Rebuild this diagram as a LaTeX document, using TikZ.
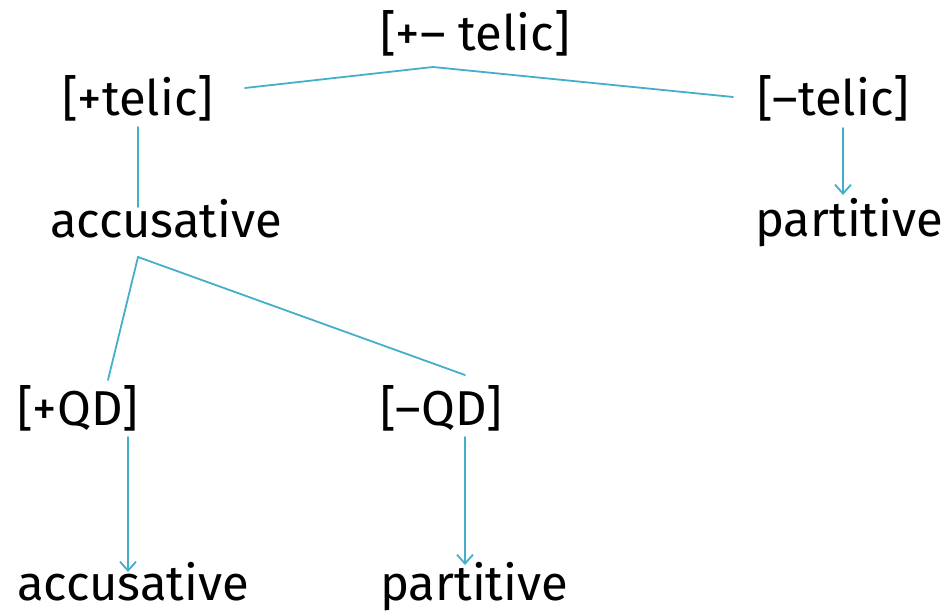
\documentclass[tikz,border=0pt]{standalone}
\usepackage{fontspec}
\setmainfont{Fira Sans}
\usepackage{tikz}
\usetikzlibrary{calc,arrows.meta}
\definecolor{branch}{HTML}{45AFCB}
\tikzset{
  lab/.style={font=\fontsize{49}{56}\selectfont, inner sep=0pt, anchor=base west},
  edge/.style={draw=branch, line width=1.8pt, line cap=round},
  arr/.style={edge, -{Straight Barb[length=9pt,width=16pt]}},
}

\begin{document}
\begin{tikzpicture}[x=1pt,y=-1pt]
  \useasboundingbox (0,0) rectangle (950,613);

  \node[lab] (telic) at (380,50) {[+– telic]};
  \node[lab] (plustelic) at (62,115) {[+telic]};
  \node[lab] (minustelic) at (757,115) {[–telic]};
  \node[lab] (accmid) at (50,237) {accusative};
  \node[lab] (partright) at (755,236) {partitive};
  \node[lab] (plusQD) at (17,425) {[+QD]};
  \node[lab] (minusQD) at (380,425) {[–QD]};
  \node[lab] (accbot) at (17,600) {accusative};
  \node[lab] (partbot) at (380,600) {partitive};

  % branching points
  \coordinate (telicfork) at ($(telic.base west)+(53,17)$);
  \coordinate (accfork) at ($(accmid.base west)+(88,20)$);

  % telic split
  \draw[edge] ($(plustelic.base west)+(183,-27)$) -- (telicfork)
    -- ($(minustelic.base west)+(-24,-18)$);
  \draw[edge] ($(plustelic.base west)+(76,12)$) -- ($(accmid.base west)+(88,-30)$);
  \draw[arr] ($(minustelic.base west)+(86,13)$) -- ($(partright.base west)+(88,-41)$);

  % QD split
  \draw[edge] ($(plusQD.base west)+(91,-45)$) -- (accfork)
    -- ($(minusQD.base west)+(85,-50)$);
  \draw[arr] ($(plusQD.base west)+(111,12)$) -- ($(accbot.base west)+(111,-28)$);
  \draw[arr] ($(minusQD.base west)+(85,12)$) -- ($(partbot.base west)+(85,-35)$);
\end{tikzpicture}
\end{document}
